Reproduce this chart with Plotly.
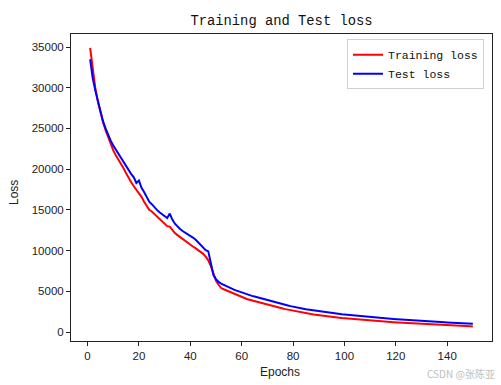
import plotly.graph_objects as go

train_loss = [
    34900, 32100, 30000, 28300, 26900, 25800, 24800, 23900, 23100, 22300,   # 1-10
    21700, 21200, 20700, 20100, 19500, 18900, 18400, 17900, 17500, 17100,   # 11-20
    16600, 16000, 15500, 15000, 14800, 14500, 14200, 13800, 13500, 13200,   # 21-30
    13000, 12950, 12500, 12150, 11900, 11650, 11400, 11150, 10950, 10720,   # 31-40
    10500, 10300, 10100, 9880, 9600, 9250, 8800, 8100, 7100, 6300,         # 41-50
    5800, 5400, 5250, 5120, 5000, 4840, 4690, 4540, 4400, 4250,            # 51-60
    4150, 4050, 3960, 3870, 3780, 3690, 3600, 3520, 3430, 3350,            # 61-70
    3270, 3190, 3100, 3030, 2950, 2880, 2810, 2740, 2670, 2600,            # 71-80
    2540, 2480, 2420, 2360, 2300, 2250, 2200, 2150, 2100, 2050,            # 81-90
    2010, 1970, 1930, 1890, 1850, 1815, 1780, 1745, 1710, 1680,            # 91-100
    1650, 1620, 1590, 1560, 1530, 1505, 1480, 1450, 1425, 1400,            # 101-110
    1378, 1356, 1334, 1312, 1290, 1270, 1250, 1230, 1210, 1190,            # 111-120
    1170, 1150, 1130, 1110, 1090, 1072, 1054, 1036, 1018, 1000,            # 121-130
    984, 968, 952, 936, 920, 904, 888, 872, 856, 840,                      # 131-140
    824, 808, 792, 776, 760, 746, 732, 718, 704, 690,                      # 141-150
]

test_loss = [
    33500, 31200, 29700, 28400, 27000, 25900, 25000, 24200, 23500, 22900,   # 1-10
    22400, 21900, 21400, 20800, 20300, 19900, 19400, 19000, 18300, 18600,   # 11-20
    17700, 17200, 16500, 16000, 15700, 15300, 15000, 14700, 14450, 14200,   # 21-30
    14000, 14550, 13800, 13300, 12950, 12650, 12400, 12200, 12100, 11900,   # 31-40
    11600, 11350, 11000, 10700, 10400, 10050, 9900, 8300, 7000, 6500,      # 41-50
    6150, 5950, 5780, 5610, 5450, 5320, 5200, 5080, 4960, 4850,            # 51-60
    4740, 4640, 4540, 4440, 4350, 4260, 4170, 4080, 3990, 3900,            # 61-70
    3820, 3740, 3660, 3580, 3500, 3420, 3340, 3260, 3180, 3100,            # 71-80
    3040, 2980, 2920, 2860, 2800, 2750, 2695, 2645, 2590, 2540,            # 81-90
    2495, 2450, 2405, 2360, 2320, 2285, 2250, 2215, 2180, 2150,            # 91-100
    2115, 2080, 2045, 2010, 1980, 1950, 1920, 1890, 1860, 1830,            # 101-110
    1802, 1774, 1746, 1718, 1690, 1666, 1642, 1618, 1594, 1570,            # 111-120
    1548, 1526, 1504, 1482, 1460, 1440, 1420, 1400, 1380, 1360,            # 121-130
    1340, 1320, 1300, 1280, 1260, 1242, 1224, 1206, 1188, 1170,            # 131-140
    1154, 1138, 1122, 1106, 1090, 1076, 1062, 1048, 1034, 1020,            # 141-150
]

epochs = list(range(1, len(train_loss) + 1))

x_ticks = [0, 20, 40, 60, 80, 100, 120, 140]
y_ticks = [0, 5000, 10000, 15000, 20000, 25000, 30000, 35000]

mono = "Liberation Mono"
sans = "Liberation Sans, Arial, sans-serif"

fig = go.Figure()
fig.add_trace(go.Scatter(x=epochs, y=train_loss, mode="lines", name="Training loss",
                         line=dict(color="#ff0000", width=2)))
fig.add_trace(go.Scatter(x=epochs, y=test_loss, mode="lines", name="Test loss",
                         line=dict(color="#0000ff", width=2)))

axis_common = dict(showgrid=False, zeroline=False, showline=True, mirror=True,
                   linecolor="#222222", linewidth=1, ticks="outside", ticklen=4,
                   tickwidth=1, tickcolor="#222222", automargin=False,
                   tickfont=dict(family=sans, size=11.5, color="#222222"))

fig.update_layout(
    width=501, height=385,
    margin=dict(l=71, r=9, t=34, b=44, autoexpand=False),
    paper_bgcolor="white", plot_bgcolor="white",
    title=dict(text="Training and Test loss", x=281.5 / 501, xanchor="center",
               y=1 - 20.5 / 385, yanchor="middle",
               font=dict(family=mono, size=13.8, color="#111111")),
    xaxis=dict(range=[-6.45, 157.45], tickvals=x_ticks,
               ticktext=[str(v) for v in x_ticks], **axis_common),
    yaxis=dict(range=[-1105, 36600], tickvals=y_ticks,
               ticktext=[str(v) for v in y_ticks], **axis_common),
    legend=dict(x=0.981, y=0.983, xanchor="right", yanchor="top",
                bgcolor="white", bordercolor="#d0d0d0", borderwidth=1,
                font=dict(family=mono, size=11.5, color="#111111"),
                itemwidth=30, tracegroupgap=0),
    showlegend=True,
)

pw, ph = 421, 307
fig.add_annotation(text="Epochs", xref="paper", yref="paper",
                   x=(280 - 71) / pw, y=-(372 - 341) / ph, xanchor="center", yanchor="middle",
                   showarrow=False, font=dict(family=sans, size=12, color="#222222"))
fig.add_annotation(text="Loss", xref="paper", yref="paper", textangle=-90,
                   x=-(71 - 14) / pw, y=(341 - 193) / ph, xanchor="center", yanchor="middle",
                   showarrow=False, font=dict(family=sans, size=12, color="#222222"))
fig.add_annotation(text="CSDN @张陈亚", xref="paper", yref="paper",
                   x=(497 - 71) / pw, y=-(373 - 341) / ph, xanchor="right", yanchor="middle",
                   showarrow=False,
                   font=dict(family="Noto Sans CJK SC", size=10, color="#c0c0c0"))

fig.write_html("out.html", config={"displayModeBar": False},
               post_script="document.body.style.margin='0';document.body.style.overflow='hidden';")
